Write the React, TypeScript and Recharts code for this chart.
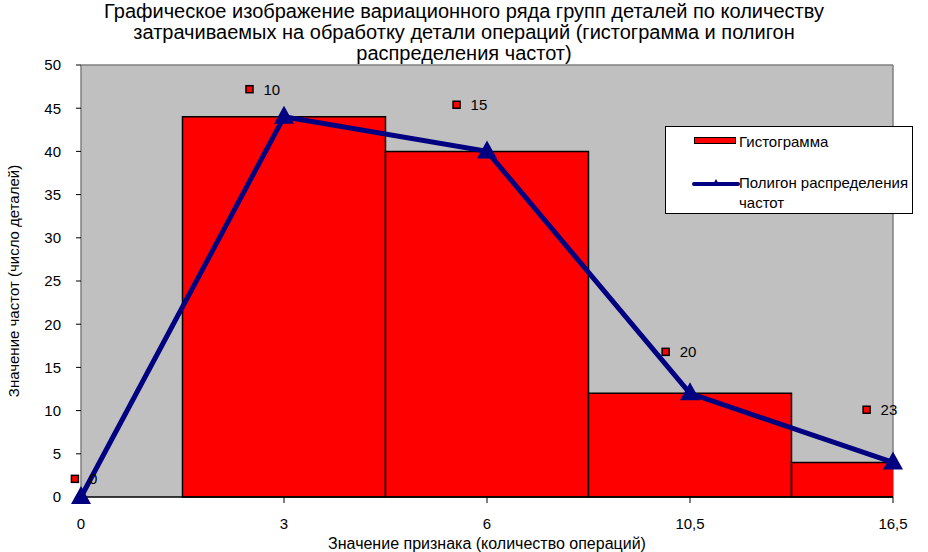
import {
  Bar,
  CartesianGrid,
  ComposedChart,
  Legend,
  Line,
  ReferenceDot,
  XAxis,
  YAxis,
} from 'recharts';

// x categories (interval values) and the two series
const categories = ['0', '3', '6', '10,5', '16,5'];
const histogram: (number | null)[] = [null, 44, 40, 12, 4];
const polygon = [0, 44, 40, 12, 4];

// Excel-style stray labels with legend keys
const markerX = [-0.03, 0.83, 1.85, 2.88, 3.87];
const markerY = [2.1, 47.2, 45.4, 16.8, 10.1];
const markerText = ['0', '10', '15', '20', '23'];

const yTicks = [0, 5, 10, 15, 20, 25, 30, 35, 40, 45, 50];

const titleLines = [
  'Графическое изображение вариационного ряда групп деталей по количеству',
  'затрачиваемых на обработку детали операций (гистограмма и полигон',
  'распределения частот)',
];

const WIDTH = 928;
const HEIGHT = 552;
const PLOT_LEFT = 81;
const PLOT_RIGHT = 893;
// bars touch each other; a hair under the band so recharts doesn't shrink them to 90%
const barWidth = (PLOT_RIGHT - PLOT_LEFT) / (categories.length - 1) - 0.01;

const font = 'Arial, "Liberation Sans", sans-serif';
const navy = '#000080';

const data = categories.map((c, i) => ({ idx: i, hist: histogram[i], poly: polygon[i] }));

function TriangleDot(props: any) {
  const { cx, cy } = props;
  if (cx == null || cy == null) return null;
  return (
    <polygon
      key={`tri-${props.index}`}
      points={`${cx},${cy - 11} ${cx - 10},${cy + 7} ${cx + 10},${cy + 7}`}
      fill={navy}
    />
  );
}

function makeMarker(text: string) {
  return (props: any) => {
    const { cx, cy } = props;
    return (
      <g>
        <rect x={cx - 3.5} y={cy - 3.5} width={7} height={7} fill="#ff0000" stroke="#000" strokeWidth={1.5} />
        <text x={cx + 14} y={cy} dominantBaseline="central" fontSize={15} fontFamily={font} fill="#000">
          {text}
        </text>
      </g>
    );
  };
}

function LegendBox() {
  return (
    <div
      style={{
        width: 248,
        height: 88,
        boxSizing: 'border-box',
        background: '#fff',
        border: '1px solid #000',
        position: 'relative',
        fontFamily: font,
        fontSize: 15,
        color: '#000',
      }}
    >
      <div
        style={{
          position: 'absolute',
          left: 28,
          top: 10,
          width: 42,
          height: 7,
          background: '#ff0000',
          border: '1.5px solid #000',
          boxSizing: 'border-box',
        }}
      />
      <div style={{ position: 'absolute', left: 73, top: 5, lineHeight: '20px' }}>Гистограмма</div>
      <svg style={{ position: 'absolute', left: 26, top: 50 }} width={48} height={14}>
        <line x1={2} y1={7} x2={46} y2={7} stroke={navy} strokeWidth={4} strokeLinecap="round" />
        <polygon points="24,2 20,9 28,9" fill={navy} />
      </svg>
      <div style={{ position: 'absolute', left: 73, top: 46, lineHeight: '20px', width: 175 }}>
        Полигон распределения
        <br />
        частот
      </div>
    </div>
  );
}

export default function App() {
  return (
    <div style={{ position: 'absolute', left: 0, top: 0, width: WIDTH, height: HEIGHT, background: '#fff' }}>
      <div
        style={{
          position: 'absolute',
          left: 0,
          top: 1,
          width: WIDTH,
          textAlign: 'center',
          fontFamily: font,
          fontSize: 20,
          lineHeight: '21px',
          color: '#000',
          zIndex: 2,
        }}
      >
        {titleLines.map((l) => (
          <div key={l}>{l}</div>
        ))}
      </div>
      <ComposedChart
        width={WIDTH}
        height={HEIGHT}
        data={data}
        barCategoryGap={0}
        barGap={0}
        margin={{ top: 65, right: WIDTH - PLOT_RIGHT, bottom: 0, left: 0 }}
      >
        <CartesianGrid
          fill="#c0c0c0"
          stroke="#808080"
          strokeWidth={1.5}
          horizontalValues={[50]}
          verticalValues={[4]}
        />
        <XAxis
          dataKey="idx"
          type="number"
          domain={[0, 4]}
          ticks={[0, 1, 2, 3, 4]}
          tickFormatter={(v: number) => categories[v]}
          height={55}
          tickSize={6}
          tickMargin={15}
          tick={{ fontSize: 15, fill: '#000', fontFamily: font }}
          axisLine={{ stroke: '#000', strokeWidth: 1.5 }}
          tickLine={{ stroke: '#000' }}
          label={{
            value: 'Значение признака (количество операций)',
            position: 'insideBottom',
            offset: 3,
            fontSize: 16,
            fill: '#000',
            fontFamily: font,
          }}
        />
        <XAxis xAxisId="bars" dataKey="idx" type="number" domain={[0, 4]} allowDataOverflow hide />
        <YAxis
          domain={[0, 50]}
          ticks={yTicks}
          width={PLOT_LEFT}
          tickSize={5}
          tickMargin={15}
          tick={{ fontSize: 15, fill: '#000', fontFamily: font }}
          axisLine={{ stroke: '#808080', strokeWidth: 1.5 }}
          tickLine={{ stroke: '#000' }}
          label={{
            content: (p: any) => {
              const vb = p.viewBox;
              const cy = vb.y + vb.height / 2;
              return (
                <text
                  x={13}
                  y={cy}
                  transform={`rotate(-90, 13, ${cy})`}
                  textAnchor="middle"
                  dominantBaseline="central"
                  fontSize={15}
                  fontFamily={font}
                  fill="#000"
                >
                  Значение частот (число деталей)
                </text>
              );
            },
          }}
        />
        <Bar
          xAxisId="bars"
          dataKey="hist"
          name="Гистограмма"
          fill="#ff0000"
          stroke="#000"
          strokeWidth={1.5}
          barSize={barWidth}
          isAnimationActive={false}
        />
        <Line
          dataKey="poly"
          name="Полигон распределения частот"
          stroke={navy}
          strokeWidth={5}
          dot={TriangleDot}
          activeDot={false}
          isAnimationActive={false}
        />
        {markerText.map((t, i) => (
          <ReferenceDot
            key={t}
            x={markerX[i]}
            y={markerY[i]}
            r={4}
            ifOverflow="visible"
            shape={makeMarker(t)}
          />
        ))}
        <Legend
          content={() => <LegendBox />}
          wrapperStyle={{ left: 665, top: 126, width: 248, height: 88, bottom: 'auto' }}
          verticalAlign="middle"
          layout="horizontal"
        />
      </ComposedChart>
    </div>
  );
}
